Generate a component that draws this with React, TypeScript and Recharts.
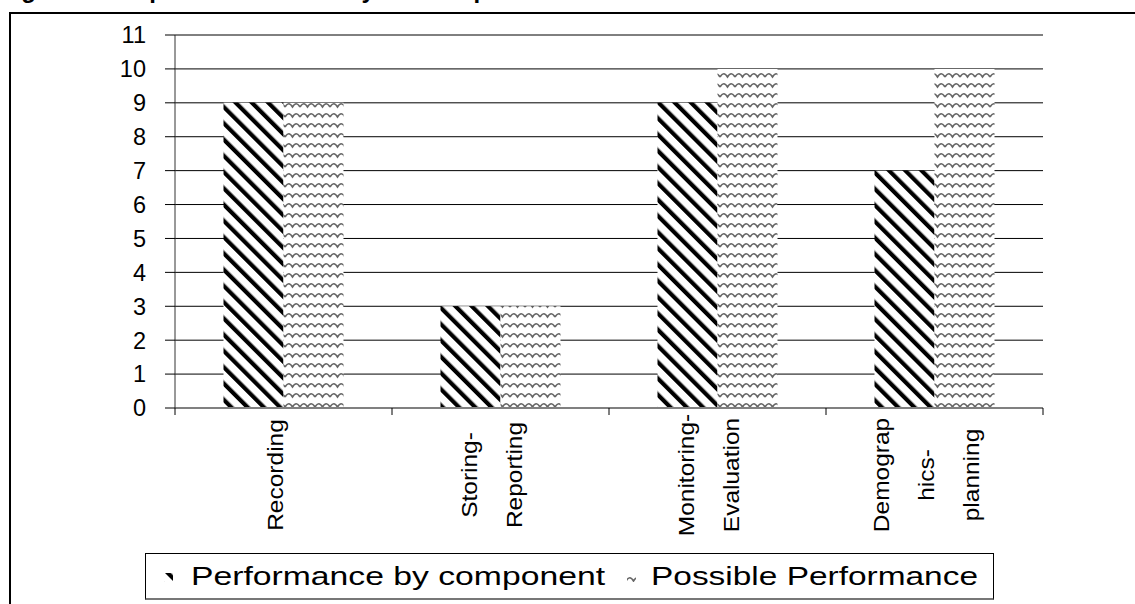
import { Bar, BarChart, CartesianGrid, XAxis, YAxis } from "recharts";

// values
const CATEGORIES = ["Recording", "Storing-Reporting", "Monitoring-Evaluation", "Demographics-planning"];
const CATEGORY_LINES = [["Recording"], ["Storing-", "Reporting"], ["Monitoring-", "Evaluation"], ["Demograp", "hics-", "planning"]];
const PERFORMANCE = [9, 3, 9, 7];
const POSSIBLE = [9, 3, 10, 10];
const SERIES_NAMES = ["Performance by component", "Possible Performance"];
const Y_TICKS = [0, 1, 2, 3, 4, 5, 6, 7, 8, 9, 10, 11];
const TITLE = "Figure 2: Graphic chart of HIS by the component";

const data = CATEGORIES.map((name, i) => ({
  name,
  performance: PERFORMANCE[i],
  possible: POSSIBLE[i],
}));

const W = 1135;
const H = 604;
const MARGIN = { top: 35, right: 92, bottom: 0, left: 0 };
const Y_AXIS_W = 175;
const X_AXIS_H = 196;
const HALF_BAND = (W - MARGIN.left - MARGIN.right - Y_AXIS_W) / CATEGORIES.length / 2;
const FONT = "'Liberation Sans', Arial, sans-serif";
const LINE_GAP = 45;

function CategoryTick(props: any) {
  const { x, y, index } = props;
  const lines = CATEGORY_LINES[index] ?? [];
  const last = index === CATEGORIES.length - 1;
  const cy = y + 67;
  return (
    <g>
      <line x1={x - HALF_BAND} x2={x - HALF_BAND} y1={y} y2={y + 7} stroke="#000" />
      {last && <line x1={x + HALF_BAND} x2={x + HALF_BAND} y1={y} y2={y + 7} stroke="#000" />}
      {lines.map((line, i) => {
        const bx = x + (i - (lines.length - 1) / 2) * LINE_GAP - 1;
        return (
          <text
            key={line}
            transform={`translate(${bx},${cy}) rotate(-90) scale(1,0.9)`}
            textAnchor="middle"
            fontFamily={FONT}
            fontSize={24.5}
            fill="#000"
          >
            {line}
          </text>
        );
      })}
    </g>
  );
}

function PatternDefs() {
  return (
    <defs>
      <pattern id="stripes" patternUnits="userSpaceOnUse" width="11.5" height="11.5" patternTransform="rotate(-45)">
        <rect x="0" y="0" width="11.5" height="11.5" fill="#fff" />
        <rect x="0" y="0" width="4.2" height="11.5" fill="#000" />
      </pattern>
      <pattern id="waves" patternUnits="userSpaceOnUse" width="15" height="10">
        <rect x="0" y="0" width="15" height="10" fill="#fff" />
        <path d="M0,7 Q3.75,0.5 7.5,7 Q11.25,0.5 15,7" fill="none" stroke="#666" strokeWidth="1.6" />
      </pattern>
    </defs>
  );
}

function LegendBox() {
  return (
    <div
      style={{
        position: "absolute",
        left: 145,
        top: 553,
        width: 847,
        height: 44,
        border: "1px solid #000",
        borderBottom: "2px solid #777",
        background: "#fff",
      }}
    >
      <svg width={847} height={44} style={{ display: "block" }}>
        <PatternDefs />
        <rect x={18} y={19} width={9} height={9} fill="url(#stripes)" />
        <text x={45} y={31} fontFamily={FONT} fontSize={25.5} textLength={414} lengthAdjust="spacingAndGlyphs">
          {SERIES_NAMES[0]}
        </text>
        <rect x={481} y={19} width={9} height={9} fill="url(#waves)" />
        <text x={505} y={31} fontFamily={FONT} fontSize={25.5} textLength={327} lengthAdjust="spacingAndGlyphs">
          {SERIES_NAMES[1]}
        </text>
      </svg>
    </div>
  );
}

export default function App() {
  return (
    <div style={{ position: "absolute", left: 0, top: 0, width: W, height: H, overflow: "hidden", background: "#fff" }}>
      <svg width={W} height={20} style={{ position: "absolute", left: 0, top: 0 }}>
        <text x={0} y={-2} fontFamily={FONT} fontWeight="bold" fontSize={24} fill="#000">
          {TITLE}
        </text>
      </svg>
      <div
        style={{
          position: "absolute",
          left: 9,
          top: 12,
          width: W,
          height: H,
          borderLeft: "2px solid #000",
          borderTop: "2px solid #000",
        }}
      />
      <div style={{ position: "absolute", left: 0, top: 0 }}>
        <BarChart width={W} height={H} data={data} margin={MARGIN} barCategoryGap="22.35%" barGap={0}>
          <PatternDefs />
          <CartesianGrid horizontal vertical={false} stroke="#000" />
          <XAxis
            dataKey="name"
            height={X_AXIS_H}
            interval={0}
            tickSize={0}
            tickMargin={0}
            tickLine={false}
            axisLine={{ stroke: "#808080", strokeWidth: 2 }}
            tick={<CategoryTick />}
          />
          <YAxis
            width={Y_AXIS_W}
            domain={[0, 11]}
            ticks={Y_TICKS}
            interval={0}
            tickSize={10}
            tickMargin={19}
            axisLine={{ stroke: "#333" }}
            tickLine={{ stroke: "#000" }}
            tick={{ fill: "#000", fontSize: 23.5, fontFamily: FONT }}
          />
          <Bar dataKey="performance" name={SERIES_NAMES[0]} fill="url(#stripes)" isAnimationActive={false} />
          <Bar dataKey="possible" name={SERIES_NAMES[1]} fill="url(#waves)" isAnimationActive={false} />
        </BarChart>
      </div>
      <LegendBox />
    </div>
  );
}
